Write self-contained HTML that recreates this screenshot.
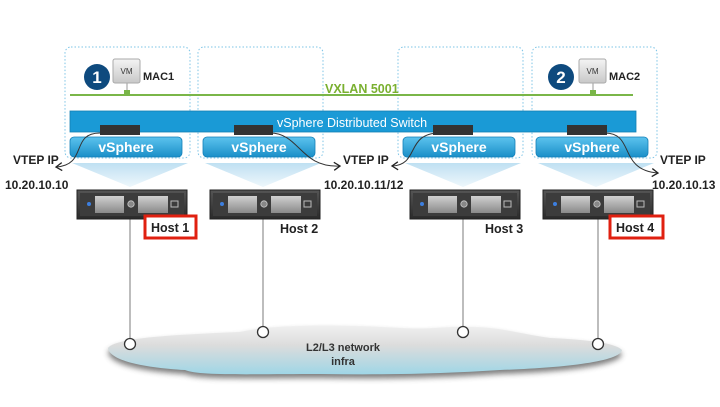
<!DOCTYPE html>
<html><head><meta charset="utf-8"><style>
html,body{margin:0;padding:0;background:#fff;}
svg{display:block;font-family:"Liberation Sans",Arial,sans-serif;}
</style></head><body>
<svg width="720" height="407" viewBox="0 0 720 407" xmlns="http://www.w3.org/2000/svg">
<defs>
<linearGradient id="tri" x1="0" y1="0" x2="0" y2="1"><stop offset="0" stop-color="#bfe0f2"/><stop offset="1" stop-color="#eef7fc"/></linearGradient>
<linearGradient id="vs" x1="0" y1="0" x2="0" y2="1"><stop offset="0" stop-color="#5cc3ee"/><stop offset="1" stop-color="#1a8fc8"/></linearGradient>
<linearGradient id="vm" x1="0" y1="0" x2="0" y2="1"><stop offset="0" stop-color="#f4f4f4"/><stop offset="1" stop-color="#c8c8c8"/></linearGradient>
<linearGradient id="cl" x1="0" y1="0" x2="0" y2="1"><stop offset="0" stop-color="#f0f0f0"/><stop offset="0.4" stop-color="#dcdcdc"/><stop offset="1" stop-color="#9fd6e6"/></linearGradient>
<linearGradient id="srv" x1="0" y1="0" x2="0" y2="1"><stop offset="0" stop-color="#555"/><stop offset="1" stop-color="#2a2a2a"/></linearGradient>
<linearGradient id="slot" x1="0" y1="0" x2="0" y2="1"><stop offset="0" stop-color="#d0d0d0"/><stop offset="1" stop-color="#8a8a8a"/></linearGradient>
<filter id="sh" x="-10%" y="-50%" width="120%" height="200%"><feGaussianBlur stdDeviation="3"/></filter>
<marker id="ar" markerWidth="10" markerHeight="10" refX="7" refY="5" orient="auto" markerUnits="userSpaceOnUse"><path d="M1,1 L7,5 L1,9" fill="none" stroke="#222" stroke-width="1.3"/></marker>
</defs>

<g fill="none" stroke="#7cc4e6" stroke-width="1" stroke-dasharray="1.5,2">
<rect x="65" y="47" width="125" height="111" rx="6"/>
<rect x="198" y="47" width="125" height="111" rx="6"/>
<rect x="398" y="47" width="125" height="111" rx="6"/>
<rect x="532" y="47" width="125" height="111" rx="6"/>
</g>

<g fill="url(#tri)">
<polygon points="72,163 188,163 130,187"/>
<polygon points="205,163 321,163 263,187"/>
<polygon points="405,163 521,163 463,187"/>
<polygon points="538,163 654,163 596,187"/>
</g>

<line x1="70" y1="95" x2="633" y2="95" stroke="#7ab648" stroke-width="2"/>
<text x="325" y="93" font-size="12.5" font-weight="bold" fill="#7ab030">VXLAN 5001</text>

<line x1="127" y1="83" x2="127" y2="92" stroke="#999" stroke-width="1"/>
<rect x="124" y="90" width="6" height="5" fill="#7ab648"/>
<rect x="113" y="59" width="27" height="24" rx="2" fill="url(#vm)" stroke="#aaa"/>
<text x="126.5" y="74" font-size="8" text-anchor="middle" fill="#333">VM</text>
<text x="143" y="80" font-size="11" font-weight="bold" fill="#222">MAC1</text>
<circle cx="97" cy="77" r="13" fill="#0e4a7e"/>
<text x="97" y="83" font-size="17" font-weight="bold" fill="#fff" text-anchor="middle">1</text>

<line x1="593" y1="83" x2="593" y2="92" stroke="#999" stroke-width="1"/>
<rect x="590" y="90" width="6" height="5" fill="#7ab648"/>
<rect x="579" y="59" width="27" height="24" rx="2" fill="url(#vm)" stroke="#aaa"/>
<text x="592.5" y="74" font-size="8" text-anchor="middle" fill="#333">VM</text>
<text x="609" y="80" font-size="11" font-weight="bold" fill="#222">MAC2</text>
<circle cx="561" cy="77" r="13" fill="#0e4a7e"/>
<text x="561" y="83" font-size="17" font-weight="bold" fill="#fff" text-anchor="middle">2</text>

<rect x="70" y="111" width="566" height="21" fill="#1a9ad6" stroke="#137fb3" stroke-width="0.8"/>
<text x="277" y="127" font-size="12.5" fill="#fff">vSphere Distributed Switch</text>

<g fill="url(#vs)" stroke="#1580b8" stroke-width="0.8">
<rect x="70" y="137" width="112" height="20" rx="4"/>
<rect x="203" y="137" width="112" height="20" rx="4"/>
<rect x="403" y="137" width="112" height="20" rx="4"/>
<rect x="536" y="137" width="112" height="20" rx="4"/>
</g>
<g font-size="14" font-weight="bold" fill="#fff" text-anchor="middle">
<text x="126" y="152">vSphere</text>
<text x="259" y="152">vSphere</text>
<text x="459" y="152">vSphere</text>
<text x="592" y="152">vSphere</text>
</g>

<g fill="#333">
<rect x="100" y="125" width="40" height="10"/>
<rect x="234" y="125" width="39" height="10"/>
<rect x="433" y="125" width="40" height="10"/>
<rect x="567" y="125" width="40" height="10"/>
</g>

<g fill="none" stroke="#333" stroke-width="1" marker-end="url(#ar)">
<path d="M100,133 C70,133 88,165 56,167"/>
<path d="M270,133 C300,133 300,168 340,166"/>
<path d="M440,133 C405,133 420,165 392,166"/>
<path d="M605,133 C635,133 618,170 658,173"/>
</g>

<g font-size="12" font-weight="bold" fill="#222">
<text x="13" y="164">VTEP IP</text>
<text x="5" y="189">10.20.10.10</text>
<text x="343" y="164">VTEP IP</text>
<text x="324" y="189">10.20.10.11/12</text>
<text x="660" y="164">VTEP IP</text>
<text x="652" y="189">10.20.10.13</text>
</g>

<g stroke="#999" stroke-width="1.3">
<line x1="130" y1="218" x2="130" y2="340"/>
<line x1="263" y1="218" x2="263" y2="328"/>
<line x1="463" y1="218" x2="463" y2="328"/>
<line x1="598" y1="218" x2="598" y2="340"/>
</g>

<g id="s1">
<rect x="77" y="190" width="110" height="29" fill="url(#srv)" stroke="#222"/>
<rect x="80" y="193" width="104" height="23" fill="#3c3c3c"/>
<circle cx="89" cy="204" r="2" fill="#3c7fe0"/>
<rect x="95" y="196" width="29" height="17" fill="url(#slot)"/>
<circle cx="131" cy="204" r="3.2" fill="#888" stroke="#ccc" stroke-width="0.8"/>
<rect x="138" y="196" width="30" height="17" fill="url(#slot)"/>
<rect x="171" y="201" width="7" height="6" fill="none" stroke="#bbb"/>
</g>
<use href="#s1" x="133"/>
<use href="#s1" x="333"/>
<use href="#s1" x="466"/>

<rect x="145" y="216" width="51" height="22" fill="#fff" stroke="#e02010" stroke-width="3"/>
<rect x="610" y="216" width="53" height="22" fill="#fff" stroke="#e02010" stroke-width="3"/>
<g font-size="12.5" font-weight="bold" fill="#222">
<text x="151" y="232">Host 1</text>
<text x="280" y="233">Host 2</text>
<text x="485" y="233">Host 3</text>
<text x="616" y="232">Host 4</text>
</g>

<path d="M108,348 C115,338 170,335 240,332 C270,325 330,324 400,328 C430,330 445,326 470,327 C500,327 520,334 550,338 C590,340 615,343 622,350 C620,362 560,368 500,370 C440,374 380,375 320,374 C250,374 200,376 185,370 C150,368 110,362 108,348 Z" fill="#444" opacity="0.7" filter="url(#sh)" transform="translate(0,4)"/>
<path d="M108,348 C115,338 170,335 240,332 C270,325 330,324 400,328 C430,330 445,326 470,327 C500,327 520,334 550,338 C590,340 615,343 622,350 C620,362 560,368 500,370 C440,374 380,375 320,374 C250,374 200,376 185,370 C150,368 110,362 108,348 Z" fill="url(#cl)"/>
<g font-size="11" font-weight="bold" fill="#333" text-anchor="middle">
<text x="343" y="351">L2/L3 network</text>
<text x="343" y="365">infra</text>
</g>
<g fill="#fff" stroke="#333" stroke-width="1.3">
<circle cx="130" cy="344" r="5.5"/>
<circle cx="263" cy="332" r="5.5"/>
<circle cx="463" cy="332" r="5.5"/>
<circle cx="598" cy="344" r="5.5"/>
</g>
</svg>
</body></html>
